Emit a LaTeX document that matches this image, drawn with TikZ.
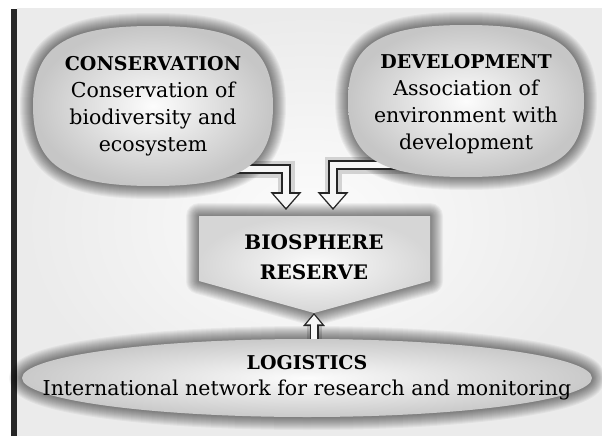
\documentclass[tikz,border=0pt]{standalone}
\usepackage{fontspec}
\setmainfont{DejaVu Serif}
\usetikzlibrary{shapes.geometric,arrows.meta,calc}
\pgfdeclarelayer{back}
\pgfdeclarelayer{links}
\pgfsetlayers{back,links,main}
\newcommand{\ttl}[1]{{\bfseries\fontsize{19}{22}\selectfont #1}}
% cushion outline: centre, half width, half height
\newcommand{\cushion}[3]{($(#1)+(-#2,0)$)
  .. controls ($(#1)+(-#2,-0.74*#3)$) and ($(#1)+(-0.74*#2,-#3)$) .. ($(#1)+(0,-#3)$)
  .. controls ($(#1)+(0.74*#2,-#3)$) and ($(#1)+(#2,-0.74*#3)$) .. ($(#1)+(#2,0)$)
  .. controls ($(#1)+(#2,0.74*#3)$) and ($(#1)+(0.74*#2,#3)$) .. ($(#1)+(0,#3)$)
  .. controls ($(#1)+(-0.74*#2,#3)$) and ($(#1)+(-#2,0.74*#3)$) .. cycle}

\begin{document}
\begin{tikzpicture}[x=1pt, y=-1pt, line join=miter,
    txt/.style={align=center, font=\fontsize{20.5}{27}\selectfont, text=black},
    cushfill/.style={inner color=gray!2, outer color=gray!45},
    hollow/.style={line width=10pt, draw=black!85, -{Triangle[length=18pt, width=30pt]},
      preaction={draw=black, opacity=0.15, line width=17pt},
      postaction={draw=gray!6, line width=6.8pt, shorten >=2.2pt, -{Triangle[length=13.6pt, width=23pt]}}},
    hollow up/.style={line width=9pt, draw=black!85, -{Triangle[length=13pt, width=21pt]},
      preaction={draw=black, opacity=0.15, line width=15pt},
      postaction={draw=gray!6, line width=6pt, shorten >=2pt, -{Triangle[length=9.4pt, width=15pt]}}},
  ]
  \useasboundingbox (0,0) rectangle (602,436);
  \begin{pgfonlayer}{back}
    \fill[white] (0,0) rectangle (602,436);
    \shade[inner color=gray!2, outer color=gray!16] (17,9) rectangle (602,436);
    \fill[black!85] (11,9) rectangle (17,436);
  \end{pgfonlayer}
  \path
  (153,106) coordinate (conc)
  (466,101) coordinate (devc)
  (307,378) coordinate (lensc)
  (199,216) coordinate (b1)
  (430,216) coordinate (b2)
  (430,281) coordinate (b3)
  (314,313) coordinate (b4)
  (199,281) coordinate (b5)
  (286,210) coordinate (ltip)
  (333,210) coordinate (rtip)
  ;
  % shapes
  \shade[inner color=gray!3, outer color=gray!32] (b1)--(b2)--(b3)--(b4)--(b5)--cycle;
  \shade[cushfill] \cushion{conc}{120}{80};
  \shade[cushfill] \cushion{devc}{118}{76};
  \path
  (153,106) node[txt] (cons) {\ttl{CONSERVATION}\\Conservation of\\biodiversity and\\ecosystem}
  (466,104) node[txt] (dev) {\ttl{DEVELOPMENT}\\Association of\\environment with\\development}
  (314,257) node[txt, font=\bfseries\fontsize{20}{30}\selectfont] (bio) {BIOSPHERE\\RESERVE}
  (lensc) node[ellipse, minimum width=570pt, minimum height=78pt, inner sep=0pt, inner color=gray!2, outer color=gray!42] (lens) {}
  (lens.center) node[txt, font=\fontsize{20.5}{26}\selectfont] (logi) {\ttl{LOGISTICS}\\International network for research and monitoring}
  ;
  \begin{pgfonlayer}{links}
    % soft dark edges
    \foreach \w in {2,4,...,26}
    \draw[black, opacity=0.045, line width=\w pt, line join=round, xshift=-3pt, yshift=-4pt]
      \cushion{conc}{120}{80} \cushion{devc}{118}{76}
      (b1)--(b2)--(b3)--(b4)--(b5)--cycle
      (lensc) ellipse [x radius=285pt, y radius=39pt];
    \draw[hollow] (cons) ++(0,63) -| (ltip);
    \draw[hollow] (dev) ++(0,61) -| (rtip);
    \draw[hollow up] (lens.north -| b4) -- (b4);
  \end{pgfonlayer}
\end{tikzpicture}
\end{document}
